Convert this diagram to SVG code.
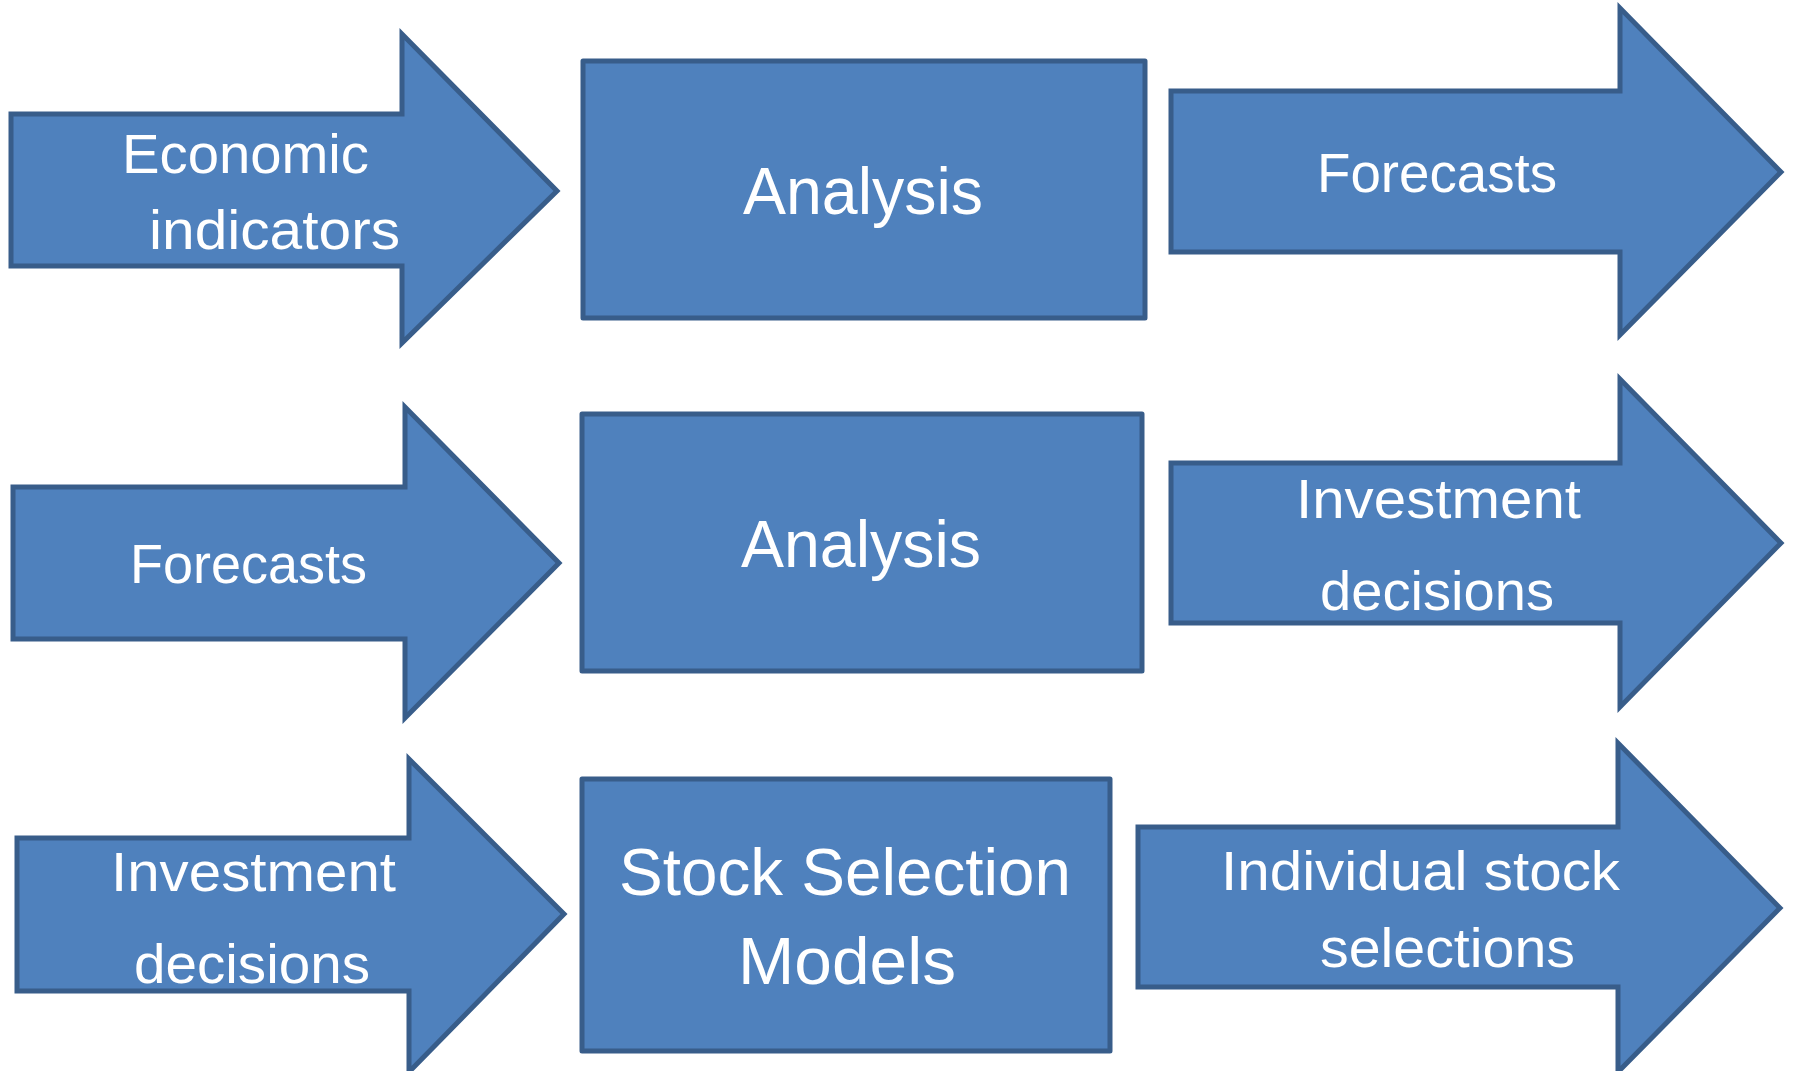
<svg xmlns="http://www.w3.org/2000/svg" width="1793" height="1071" viewBox="0 0 1793 1071">
  <style>
    .shape { fill: #4F81BD; stroke: #385D8A; stroke-width: 5; }
    .arrow { stroke-linejoin: miter; }
    .box { stroke-linejoin: round; }
    .lbl { fill: #FFFFFF; font-family: "Liberation Sans", Arial, sans-serif; text-anchor: middle; }
    .sm { font-size: 56px; }
    .lg { font-size: 66px; }
  </style>
  <rect width="1793" height="1071" fill="#FFFFFF"/>

  <!-- Row 1 -->
  <g id="arrow-economic-indicators">
    <path class="shape arrow" d="M11,114 H402 V34 L557,191 L402,343 V266 H11 Z"/>
    <text class="lbl sm" x="245.5" y="173" textLength="247" lengthAdjust="spacingAndGlyphs">Economic</text>
    <text class="lbl sm" x="274.5" y="249" textLength="251" lengthAdjust="spacingAndGlyphs">indicators</text>
  </g>
  <g id="box-analysis-1">
    <rect class="shape box" x="583" y="61" width="562" height="257"/>
    <text class="lbl lg" x="863" y="214" textLength="240" lengthAdjust="spacingAndGlyphs">Analysis</text>
  </g>
  <g id="arrow-forecasts-1">
    <path class="shape arrow" d="M1171,91 H1620 V8 L1781,172 L1620,335 V252 H1171 Z"/>
    <text class="lbl sm" x="1437" y="192" textLength="240" lengthAdjust="spacingAndGlyphs">Forecasts</text>
  </g>

  <!-- Row 2 -->
  <g id="arrow-forecasts-2">
    <path class="shape arrow" d="M13,487 H405 V407 L559,563 L405,718 V639 H13 Z"/>
    <text class="lbl sm" x="248.5" y="583" textLength="237" lengthAdjust="spacingAndGlyphs">Forecasts</text>
  </g>
  <g id="box-analysis-2">
    <rect class="shape box" x="582" y="414" width="560" height="257"/>
    <text class="lbl lg" x="861" y="567" textLength="240" lengthAdjust="spacingAndGlyphs">Analysis</text>
  </g>
  <g id="arrow-investment-decisions-2">
    <path class="shape arrow" d="M1171,463 H1620 V379 L1781,543 L1620,707 V623 H1171 Z"/>
    <text class="lbl sm" x="1438.5" y="518" textLength="285" lengthAdjust="spacingAndGlyphs">Investment</text>
    <text class="lbl sm" x="1437" y="610" textLength="234" lengthAdjust="spacingAndGlyphs">decisions</text>
  </g>

  <!-- Row 3 -->
  <g id="arrow-investment-decisions-3">
    <path class="shape arrow" d="M17,838 H409 V759 L564,914 L409,1072 V991 H17 Z"/>
    <text class="lbl sm" x="253.5" y="891" textLength="285" lengthAdjust="spacingAndGlyphs">Investment</text>
    <text class="lbl sm" x="252" y="983" textLength="236" lengthAdjust="spacingAndGlyphs">decisions</text>
  </g>
  <g id="box-stock-selection-models">
    <rect class="shape box" x="582" y="779" width="528" height="272"/>
    <text class="lbl lg" x="845" y="895" textLength="452" lengthAdjust="spacingAndGlyphs">Stock Selection</text>
    <text class="lbl lg" x="847" y="984" textLength="218" lengthAdjust="spacingAndGlyphs">Models</text>
  </g>
  <g id="arrow-individual-stock-selections">
    <path class="shape arrow" d="M1138,827 H1618 V743 L1780,908 L1618,1072 V987 H1138 Z"/>
    <text class="lbl sm" x="1420.5" y="890" textLength="399" lengthAdjust="spacingAndGlyphs">Individual stock</text>
    <text class="lbl sm" x="1447.5" y="967" textLength="255" lengthAdjust="spacingAndGlyphs">selections</text>
  </g>

  <!-- No separate connectors: the block arrows are the flow shapes themselves -->
  <g id="connectors"/>
</svg>
